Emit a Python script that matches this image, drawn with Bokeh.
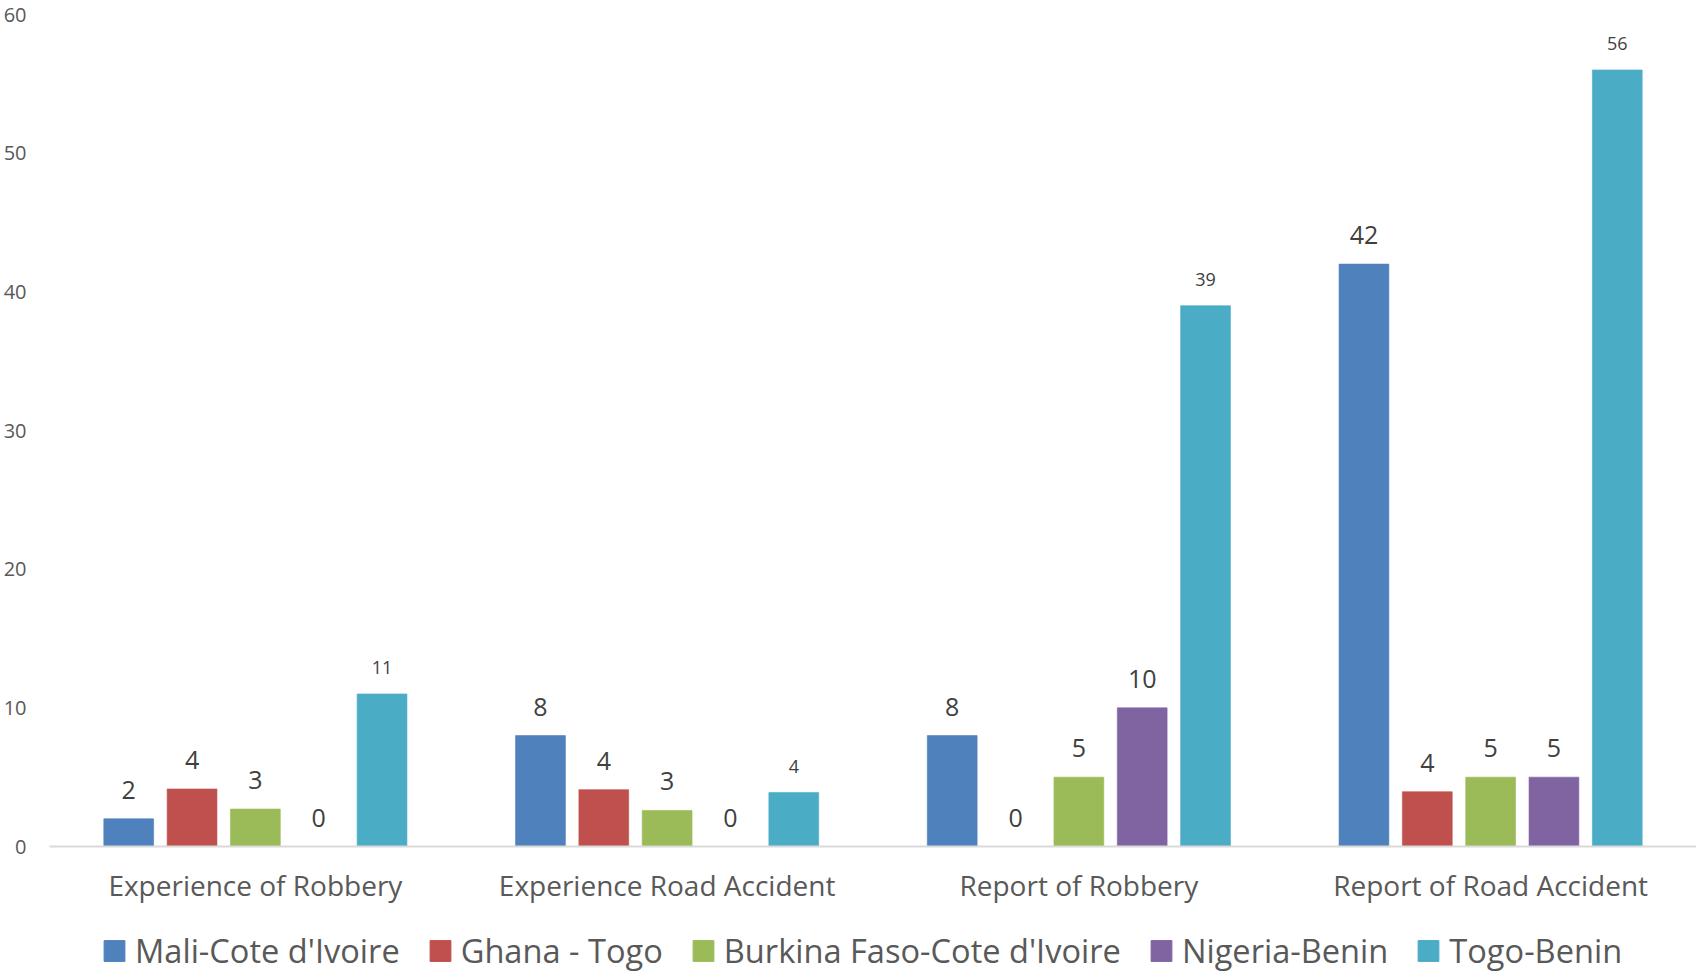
from bokeh.plotting import figure
from bokeh.layouts import column
from bokeh.models import (FactorRange, Range1d, ColumnDataSource, Legend, LegendItem,
                          FixedTicker)
from bokeh.transform import dodge
from bokeh.core.properties import value
from bokeh.embed import file_html
from bokeh.resources import INLINE

categories = ["Experience of Robbery", "Experience Road Accident",
              "Report of Robbery", "Report of Road Accident"]
series_names = ["Mali-Cote d'Ivoire", "Ghana - Togo", "Burkina Faso-Cote d'Ivoire",
                "Nigeria-Benin", "Togo-Benin"]
mali = [2, 8, 8, 42]
ghana = [4.15, 4.1, 0, 3.95]
burkina = [2.7, 2.6, 5, 5]
nigeria = [0, 0, 10, 5]
togo = [11, 3.9, 39, 56]
y_ticks = [0, 10, 20, 30, 40, 50, 60]

series_values = [mali, ghana, burkina, nigeria, togo]
colors = ["#4F81BD", "#C0504D", "#9BBB59", "#8064A2", "#4BACC6"]
label_sizes = ["25px", "25px", "25px", "25px", "18px"]
label_offsets = [-29, -29, -29, -29, -26]

FONT = "Open Sans"

p = figure(x_range=FactorRange(factors=categories, range_padding=0),
           y_range=Range1d(0, 60),
           width=1696, height=928, output_backend="svg", toolbar_location=None,
           min_border_left=49, min_border_right=0, min_border_top=14,
           min_border_bottom=82)
p.outline_line_color = None
p.xgrid.grid_line_color = None
p.ygrid.grid_line_color = None
p.background_fill_color = "white"
p.border_fill_color = "white"

pitch = 0.1538
bw = 0.121
for i, (name, vals, col) in enumerate(zip(series_names, series_values, colors)):
    src = ColumnDataSource(dict(x=categories, top=vals,
                                lab=[str(int(round(v))) for v in vals]))
    off = (i - 2) * pitch
    p.vbar(x=dodge("x", off, range=p.x_range), top="top", width=bw, source=src,
           fill_color=col, line_color=col, line_alpha=0.6, line_width=1)
    p.text(x=dodge("x", off, range=p.x_range), y="top", text="lab", source=src,
           text_align="center", text_baseline="middle", y_offset=label_offsets[i],
           text_font=value(FONT), text_font_size=label_sizes[i], text_color="#404040")

p.yaxis.ticker = FixedTicker(ticks=y_ticks)
p.yaxis.axis_line_color = None
p.yaxis.major_tick_line_color = None
p.yaxis.minor_tick_line_color = None
p.yaxis.major_tick_out = 0
p.yaxis.major_label_standoff = 23
p.yaxis.major_label_text_font = FONT
p.yaxis.major_label_text_font_size = "20px"
p.yaxis.major_label_text_color = "#595959"

p.xaxis.axis_line_color = "#D9D9D9"
p.xaxis.axis_line_width = 2
p.xaxis.major_tick_line_color = None
p.xaxis.minor_tick_line_color = None
p.xaxis.major_tick_out = 0
p.xaxis.major_label_standoff = 19
p.xaxis.major_label_text_font = FONT
p.xaxis.major_label_text_font_size = "28px"
p.xaxis.major_label_text_color = "#595959"

# legend strip below the chart (swatch renderers sit outside its visible range)
# same left border as the chart so the column keeps the chart's frame in place
lg = figure(width=1696, height=44, x_range=Range1d(0, 1), y_range=Range1d(0, 1),
            output_backend="svg", toolbar_location=None,
            x_axis_location=None, y_axis_location=None,
            min_border_left=49, min_border_right=0, min_border_top=0, min_border_bottom=0)
lg.outline_line_color = None
lg.xgrid.grid_line_color = None
lg.ygrid.grid_line_color = None
items = []
for name, col in zip(series_names, colors):
    r = lg.vbar(x=[-5], top=[-5], bottom=[-6], width=0.1, fill_color=col, line_color=col)
    items.append(LegendItem(label=name, renderers=[r]))
legend = Legend(items=items, orientation="horizontal", location="left",
                padding=0, margin=52, spacing=27, label_standoff=8,
                glyph_width=26, glyph_height=26,
                label_text_font=FONT, label_text_font_size="32.6px",
                label_text_color="#595959",
                border_line_color=None, background_fill_alpha=0)
lg.add_layout(legend, "center")

layout = column(p, lg, spacing=0)
open("out.html", "w").write(file_html(layout, INLINE))
